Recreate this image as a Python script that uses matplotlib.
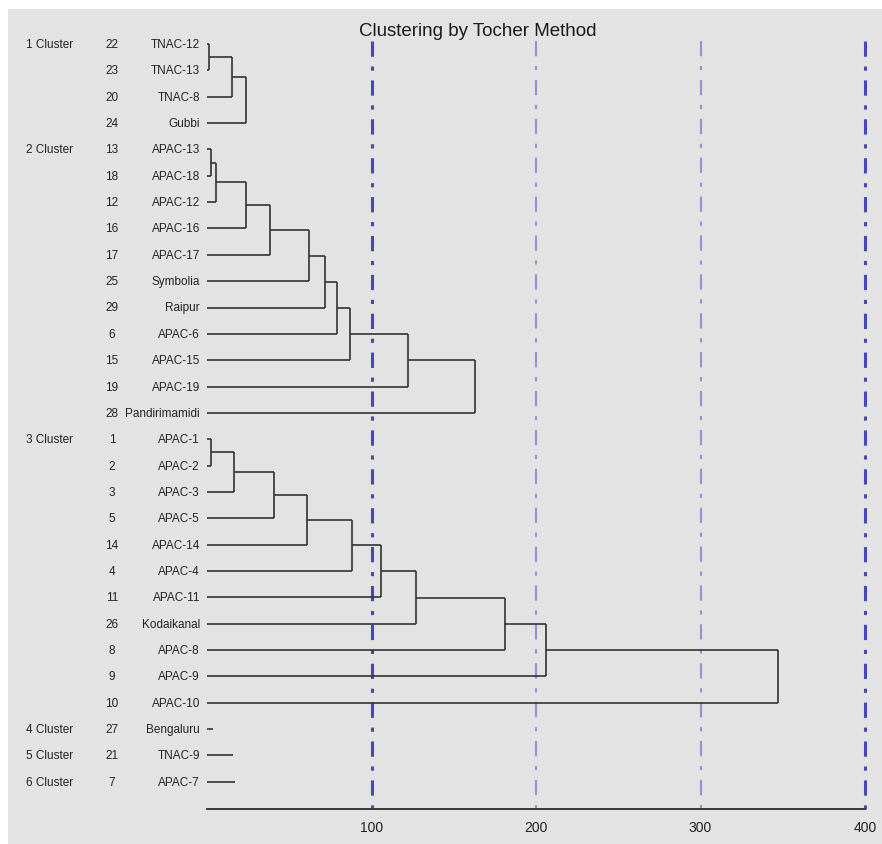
import matplotlib
matplotlib.use("Agg")
import matplotlib.pyplot as plt
from matplotlib.patches import Rectangle
import matplotlib.transforms as mtransforms

# ---- data -----------------------------------------------------------------
cluster_names = ["1 Cluster", "2 Cluster", "3 Cluster", "4 Cluster", "5 Cluster", "6 Cluster"]

cluster1_ids = [22, 23, 20, 24]
cluster1_labels = ["TNAC-12", "TNAC-13", "TNAC-8", "Gubbi"]
cluster1_heights = [1.2, 15, 24]

cluster2_ids = [13, 18, 12, 16, 17, 25, 29, 6, 15, 19, 28]
cluster2_labels = ["APAC-13", "APAC-18", "APAC-12", "APAC-16", "APAC-17", "Symbolia",
                   "Raipur", "APAC-6", "APAC-15", "APAC-19", "Pandirimamidi"]
cluster2_heights = [2.4, 5.5, 24, 38, 62, 71.5, 79, 87, 122, 163]

cluster3_ids = [1, 2, 3, 5, 14, 4, 11, 26, 8, 9, 10]
cluster3_labels = ["APAC-1", "APAC-2", "APAC-3", "APAC-5", "APAC-14", "APAC-4",
                   "APAC-11", "Kodaikanal", "APAC-8", "APAC-9", "APAC-10"]
cluster3_heights = [2.4, 16.5, 40.6, 61, 88, 106, 127, 181, 206, 347]

cluster4_ids = [27]
cluster4_labels = ["Bengaluru"]
cluster4_heights = [3.5]

cluster5_ids = [21]
cluster5_labels = ["TNAC-9"]
cluster5_heights = [16]

cluster6_ids = [7]
cluster6_labels = ["APAC-7"]
cluster6_heights = [17]

x_ticks = [100, 200, 300, 400]
x_max = 400

clusters = [
    (cluster1_ids, cluster1_labels, cluster1_heights),
    (cluster2_ids, cluster2_labels, cluster2_heights),
    (cluster3_ids, cluster3_labels, cluster3_heights),
    (cluster4_ids, cluster4_labels, cluster4_heights),
    (cluster5_ids, cluster5_labels, cluster5_heights),
    (cluster6_ids, cluster6_labels, cluster6_heights),
]

# ---- figure ---------------------------------------------------------------
W, H = 882, 845
DPI = 100
plt.rcParams["lines.scale_dashes"] = False
fig = plt.figure(figsize=(W / DPI, H / DPI), dpi=DPI, facecolor="white")

# grey panel behind everything
panel = Rectangle((8 / W, 0), 1 - 8 / W, 1 - 10 / H, transform=fig.transFigure,
                  facecolor="#e3e3e3", edgecolor="none", zorder=-10)
fig.add_artist(panel)

# axes: x 0..400 spans px 207..865, rows spaced 26.35 px, first row at px 45
x0_px, x1_px = 207, 865
row0_px, row_step = 45, 26.35
top_px, bottom_px = 42, 810
y_top = (top_px - row0_px) / row_step
y_bottom = (bottom_px - row0_px) / row_step
ax = fig.add_axes([x0_px / W, 1 - bottom_px / H, (x1_px - x0_px) / W, (bottom_px - top_px) / H])
ax.set_zorder(5)
ax.set_facecolor("none")
ax.set_xlim(0, x_max)
ax.set_ylim(y_bottom, y_top)
for s in ["top", "right", "left"]:
    ax.spines[s].set_visible(False)
ax.spines["bottom"].set_color("#3a3a3a")
ax.spines["bottom"].set_linewidth(1.4)
ax.set_yticks([])
ax.set_xticks(x_ticks)
ax.tick_params(axis="x", length=0, pad=8, labelsize=10, labelcolor="#222222")
label_font = ["Liberation Sans Narrow", "Liberation Sans", "DejaVu Sans"]
for lab in ax.get_xticklabels():
    lab.set_family(label_font)

# dash-dot guide lines
guide_style = {100: ("#4848b4", 2.2), 200: ("#9292d4", 1.5), 300: ("#9292d4", 1.5), 400: ("#4848b4", 2.2)}
for xv in x_ticks:
    col, lw = guide_style[xv]
    ax.plot([xv, xv], [y_top, y_bottom], color=col, lw=lw, dashes=(11, 7, 3, 7), zorder=1,
            solid_capstyle="butt", dash_capstyle="butt", clip_on=False)

line_kw = dict(color="#333333", lw=1.2, zorder=3, solid_capstyle="butt", clip_on=False)
fx = mtransforms.blended_transform_factory(fig.transFigure, ax.transData)

row = 0
for name, (ids, labels, heights) in zip(cluster_names, clusters):
    ys = [row + i for i in range(len(ids))]
    ax.text(26 / W, ys[0], name, transform=fx, ha="left", va="center", fontsize=8.5,
            color="#222222", family=label_font)
    for y, pid, lab in zip(ys, ids, labels):
        ax.text(112 / W, y, str(pid), transform=fx, ha="center", va="center", fontsize=8.5,
                color="#222222", family=label_font)
        ax.text(200 / W, y, lab, transform=fx, ha="right", va="center", fontsize=8.5,
                color="#222222", family=label_font)
    if len(ids) == 1:
        ax.plot([0, heights[0]], [ys[0], ys[0]], **line_kw)
    else:
        # chained agglomeration: each new leaf joins the growing group
        node_x, node_y = 0.0, ys[0]
        for k, h in enumerate(heights):
            leaf_y = ys[k + 1]
            ax.plot([node_x, h], [node_y, node_y], **line_kw)
            ax.plot([0, h], [leaf_y, leaf_y], **line_kw)
            ax.plot([h, h], [node_y, leaf_y], **line_kw)
            node_x, node_y = h, (node_y + leaf_y) / 2
    row += len(ids)

fig.text(478 / W, 1 - 32 / H, "Clustering by Tocher Method", ha="center", va="center",
         fontsize=13.5, color="#1a1a1a", family=["Liberation Sans", "DejaVu Sans"])

fig.savefig("out.png", dpi=DPI, facecolor="white")
